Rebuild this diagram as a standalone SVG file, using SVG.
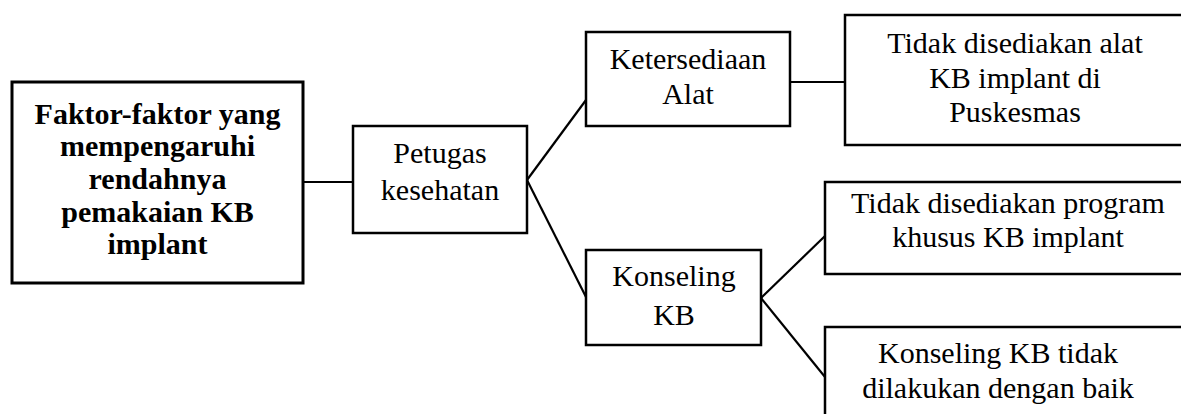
<svg xmlns="http://www.w3.org/2000/svg" width="1181" height="414" viewBox="0 0 1181 414">
<style>
.box{fill:#fff;stroke:#000;stroke-width:2.5}
.t{font-family:"Liberation Serif","Times New Roman",serif;font-size:30px;fill:#000;text-anchor:middle}
.b{font-weight:bold}
.c{stroke:#000;stroke-width:2.2;fill:none}
</style>
<rect width="1181" height="414" fill="#fff"/>
<g id="connectors">
<line class="c" x1="303" y1="182" x2="353" y2="182"/>
<line class="c" x1="527" y1="180" x2="586" y2="100"/>
<line class="c" x1="527" y1="180" x2="586" y2="297"/>
<line class="c" x1="790" y1="82" x2="845" y2="82"/>
<line class="c" x1="761" y1="298" x2="825" y2="236"/>
<line class="c" x1="761" y1="298" x2="825" y2="377"/>
</g>
<g id="n1">
<rect class="box" x="12" y="82" width="291" height="201" style="stroke-width:3"/>
<text class="t b" x="157.5" y="124">Faktor-faktor yang</text>
<text class="t b" x="157.5" y="156">mempengaruhi</text>
<text class="t b" x="157.5" y="189">rendahnya</text>
<text class="t b" x="157.5" y="222">pemakaian KB</text>
<text class="t b" x="157.5" y="254">implant</text>
</g>
<g id="n2">
<rect class="box" x="353" y="126" width="174" height="107"/>
<text class="t" x="440" y="163">Petugas</text>
<text class="t" x="440" y="200">kesehatan</text>
</g>
<g id="n3">
<rect class="box" x="586" y="32" width="204" height="94"/>
<text class="t" x="688" y="69">Ketersediaan</text>
<text class="t" x="688" y="104">Alat</text>
</g>
<g id="n4">
<rect class="box" x="845" y="15" width="345" height="130"/>
<text class="t" x="1015" y="53">Tidak disediakan alat</text>
<text class="t" x="1015" y="88">KB implant di</text>
<text class="t" x="1015" y="122">Puskesmas</text>
</g>
<g id="n5">
<rect class="box" x="586" y="250" width="175" height="95"/>
<text class="t" x="674" y="286">Konseling</text>
<text class="t" x="674" y="325">KB</text>
</g>
<g id="n6">
<rect class="box" x="825" y="182" width="365" height="92"/>
<text class="t" x="1008" y="213">Tidak disediakan program</text>
<text class="t" x="1008" y="247">khusus KB implant</text>
</g>
<g id="n7">
<rect class="box" x="825" y="327" width="365" height="100"/>
<text class="t" x="998" y="363">Konseling KB tidak</text>
<text class="t" x="998" y="398">dilakukan dengan baik</text>
</g>
</svg>
